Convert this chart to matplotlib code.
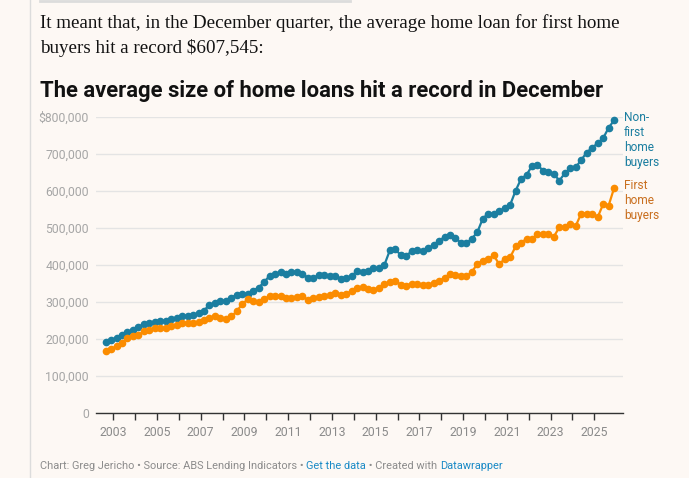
import numpy as np
import matplotlib
matplotlib.use("Agg")
import matplotlib.pyplot as plt
from matplotlib.lines import Line2D

# quarterly average loan size, Sep 2002 .. Dec 2025
start_year = 2002.65
non_first = [191.7, 198, 202.5, 211.5, 218.7, 225, 232, 241, 243, 245.7,
             249, 249, 254, 257, 261, 263, 264.6, 270, 277, 292.5,
             297, 302, 304, 312, 319.5, 322, 322, 331, 339, 354,
             371, 376, 380, 377, 381, 381.6, 377, 365, 366, 372,
             374, 369, 369, 363, 364, 371, 382.5, 381, 383, 390.6,
             391.5, 400.5, 440, 442, 426.6, 425, 437.5, 441, 436.5, 446.4,
             452.8, 464, 477, 480, 474, 459, 459, 471, 489, 525.6,
             539, 539, 546, 553.5, 562.6, 601, 632.8, 643.6, 668, 670.6,
             655, 650, 646, 628, 648, 661.6, 664, 684, 704, 717,
             729, 742.6, 770.5, 791]
first = [166.5, 173, 180, 189, 203, 207, 211.5, 220.5, 225, 229.5,
         231, 229.5, 234, 236.7, 243, 243, 243, 245.7, 252, 256.5,
         263, 256.5, 254, 261, 275, 295, 307, 302.4, 300.6, 308.7,
         315, 315, 316.8, 312, 312, 314, 315, 306, 309.6, 313,
         316.8, 319.5, 323, 318.6, 322, 329.4, 337.5, 340, 335.7, 333,
         339, 348, 353.7, 357, 346.5, 344, 350, 350, 346.5, 346.5,
         351, 358, 364.5, 376, 371.7, 370.8, 369, 381.6, 403, 412,
         416.7, 425.7, 402, 416.7, 421, 450, 459, 471.6, 470, 484,
         484, 485, 477, 502, 502, 512, 506, 539, 539, 539,
         529, 564, 560, 607.5]
year_ticks = list(range(2003, 2026))
y_ticks = [0, 100000, 200000, 300000, 400000, 500000, 600000, 700000, 800000]

quarters = start_year + 0.25 * np.arange(len(non_first))
non_first = np.array(non_first) * 1000
first = np.array(first) * 1000

bg = "#fdf8f4"
blue = "#1b7ea0"
orange = "#fb8c00"

plt.rcParams['font.family'] = ['Roboto', 'DejaVu Sans']
fig = plt.figure(figsize=(6.89, 4.78), dpi=100, facecolor=bg)
W, H = 689.0, 478.0

# page decorations
fig.add_artist(Line2D([30 / W, 30 / W], [0, 1], color="#dcdcdc", lw=1))
fig.add_artist(Line2D([40 / W, 350 / W], [1 - 1 / H, 1 - 1 / H], color="#dcdcdc", lw=2))

fig.text(40 / W, 1 - 28 / H, "It meant that, in the December quarter, the average home loan for first home",
         family=["Liberation Serif", "DejaVu Serif"], fontsize=13.7, color="#121212", va="baseline")
fig.text(40 / W, 1 - 53 / H, "buyers hit a record $607,545:",
         family=["Liberation Serif", "DejaVu Serif"], fontsize=13.7, color="#121212", va="baseline")
fig.text(40 / W, 1 - 97 / H, "The average size of home loans hit a record in December",
         fontsize=15.8, fontweight="bold", color="#111111", va="baseline")

ax = fig.add_axes([96 / W, 1 - 413 / H, (623 - 96) / W, (413 - 117) / H])
ax.set_facecolor(bg)
ax.set_xlim(2002.21, 2026.31)
ax.set_ylim(0, 800000)

ax.plot(quarters, non_first, color=blue, lw=1.6, marker="o", ms=4.5, clip_on=False, zorder=3)
ax.plot(quarters, first, color=orange, lw=1.6, marker="o", ms=4.5, clip_on=False, zorder=3)

for s in ["top", "right", "left"]:
    ax.spines[s].set_visible(False)
ax.spines["bottom"].set_color("#333333")
ax.spines["bottom"].set_linewidth(1)

ax.set_yticks(y_ticks)
ax.set_yticklabels(["$800,000" if v == 800000 else f"{v:,}" for v in y_ticks])
ax.tick_params(axis="y", length=0, pad=5, labelsize=8.8, labelcolor="#a6a6a6")
ax.yaxis.grid(True, color="#e4e4e4", lw=1)
ax.set_axisbelow(True)

ax.set_xticks(year_ticks)
ax.set_xticklabels([str(y) if y % 2 == 1 else "" for y in year_ticks])
ax.tick_params(axis="x", length=5, width=1, color="#333333", pad=4, labelsize=8.8, labelcolor="#8a8a8a")

# direct labels
ax.annotate("Non-\nfirst\nhome\nbuyers", (quarters[-1], non_first[-1]), xytext=(7, 6.5),
            textcoords="offset points", va="top", ha="left", fontsize=8.6,
            color=blue, linespacing=1.2, annotation_clip=False)
ax.annotate("First\nhome\nbuyers", (quarters[-1], first[-1]), xytext=(7, 6.5),
            textcoords="offset points", va="top", ha="left", fontsize=8.6,
            color="#c96f1f", linespacing=1.2, annotation_clip=False)

# footer, built piece by piece
fig.canvas.draw()
renderer = fig.canvas.get_renderer()
pieces = [("Chart: Greg Jericho • Source: ABS Lending Indicators • ", "#8c8c8c"),
          ("Get the data", "#1a8ac6"),
          (" • Created with ", "#8c8c8c"),
          ("Datawrapper", "#1a8ac6")]
x = 40 / W
for txt, col in pieces:
    t = fig.text(x, 1 - 469 / H, txt, fontsize=7.9, color=col, va="baseline")
    bb = t.get_window_extent(renderer)
    x = bb.x1 / fig.bbox.width

fig.savefig("out.png", dpi=100, facecolor=bg)
